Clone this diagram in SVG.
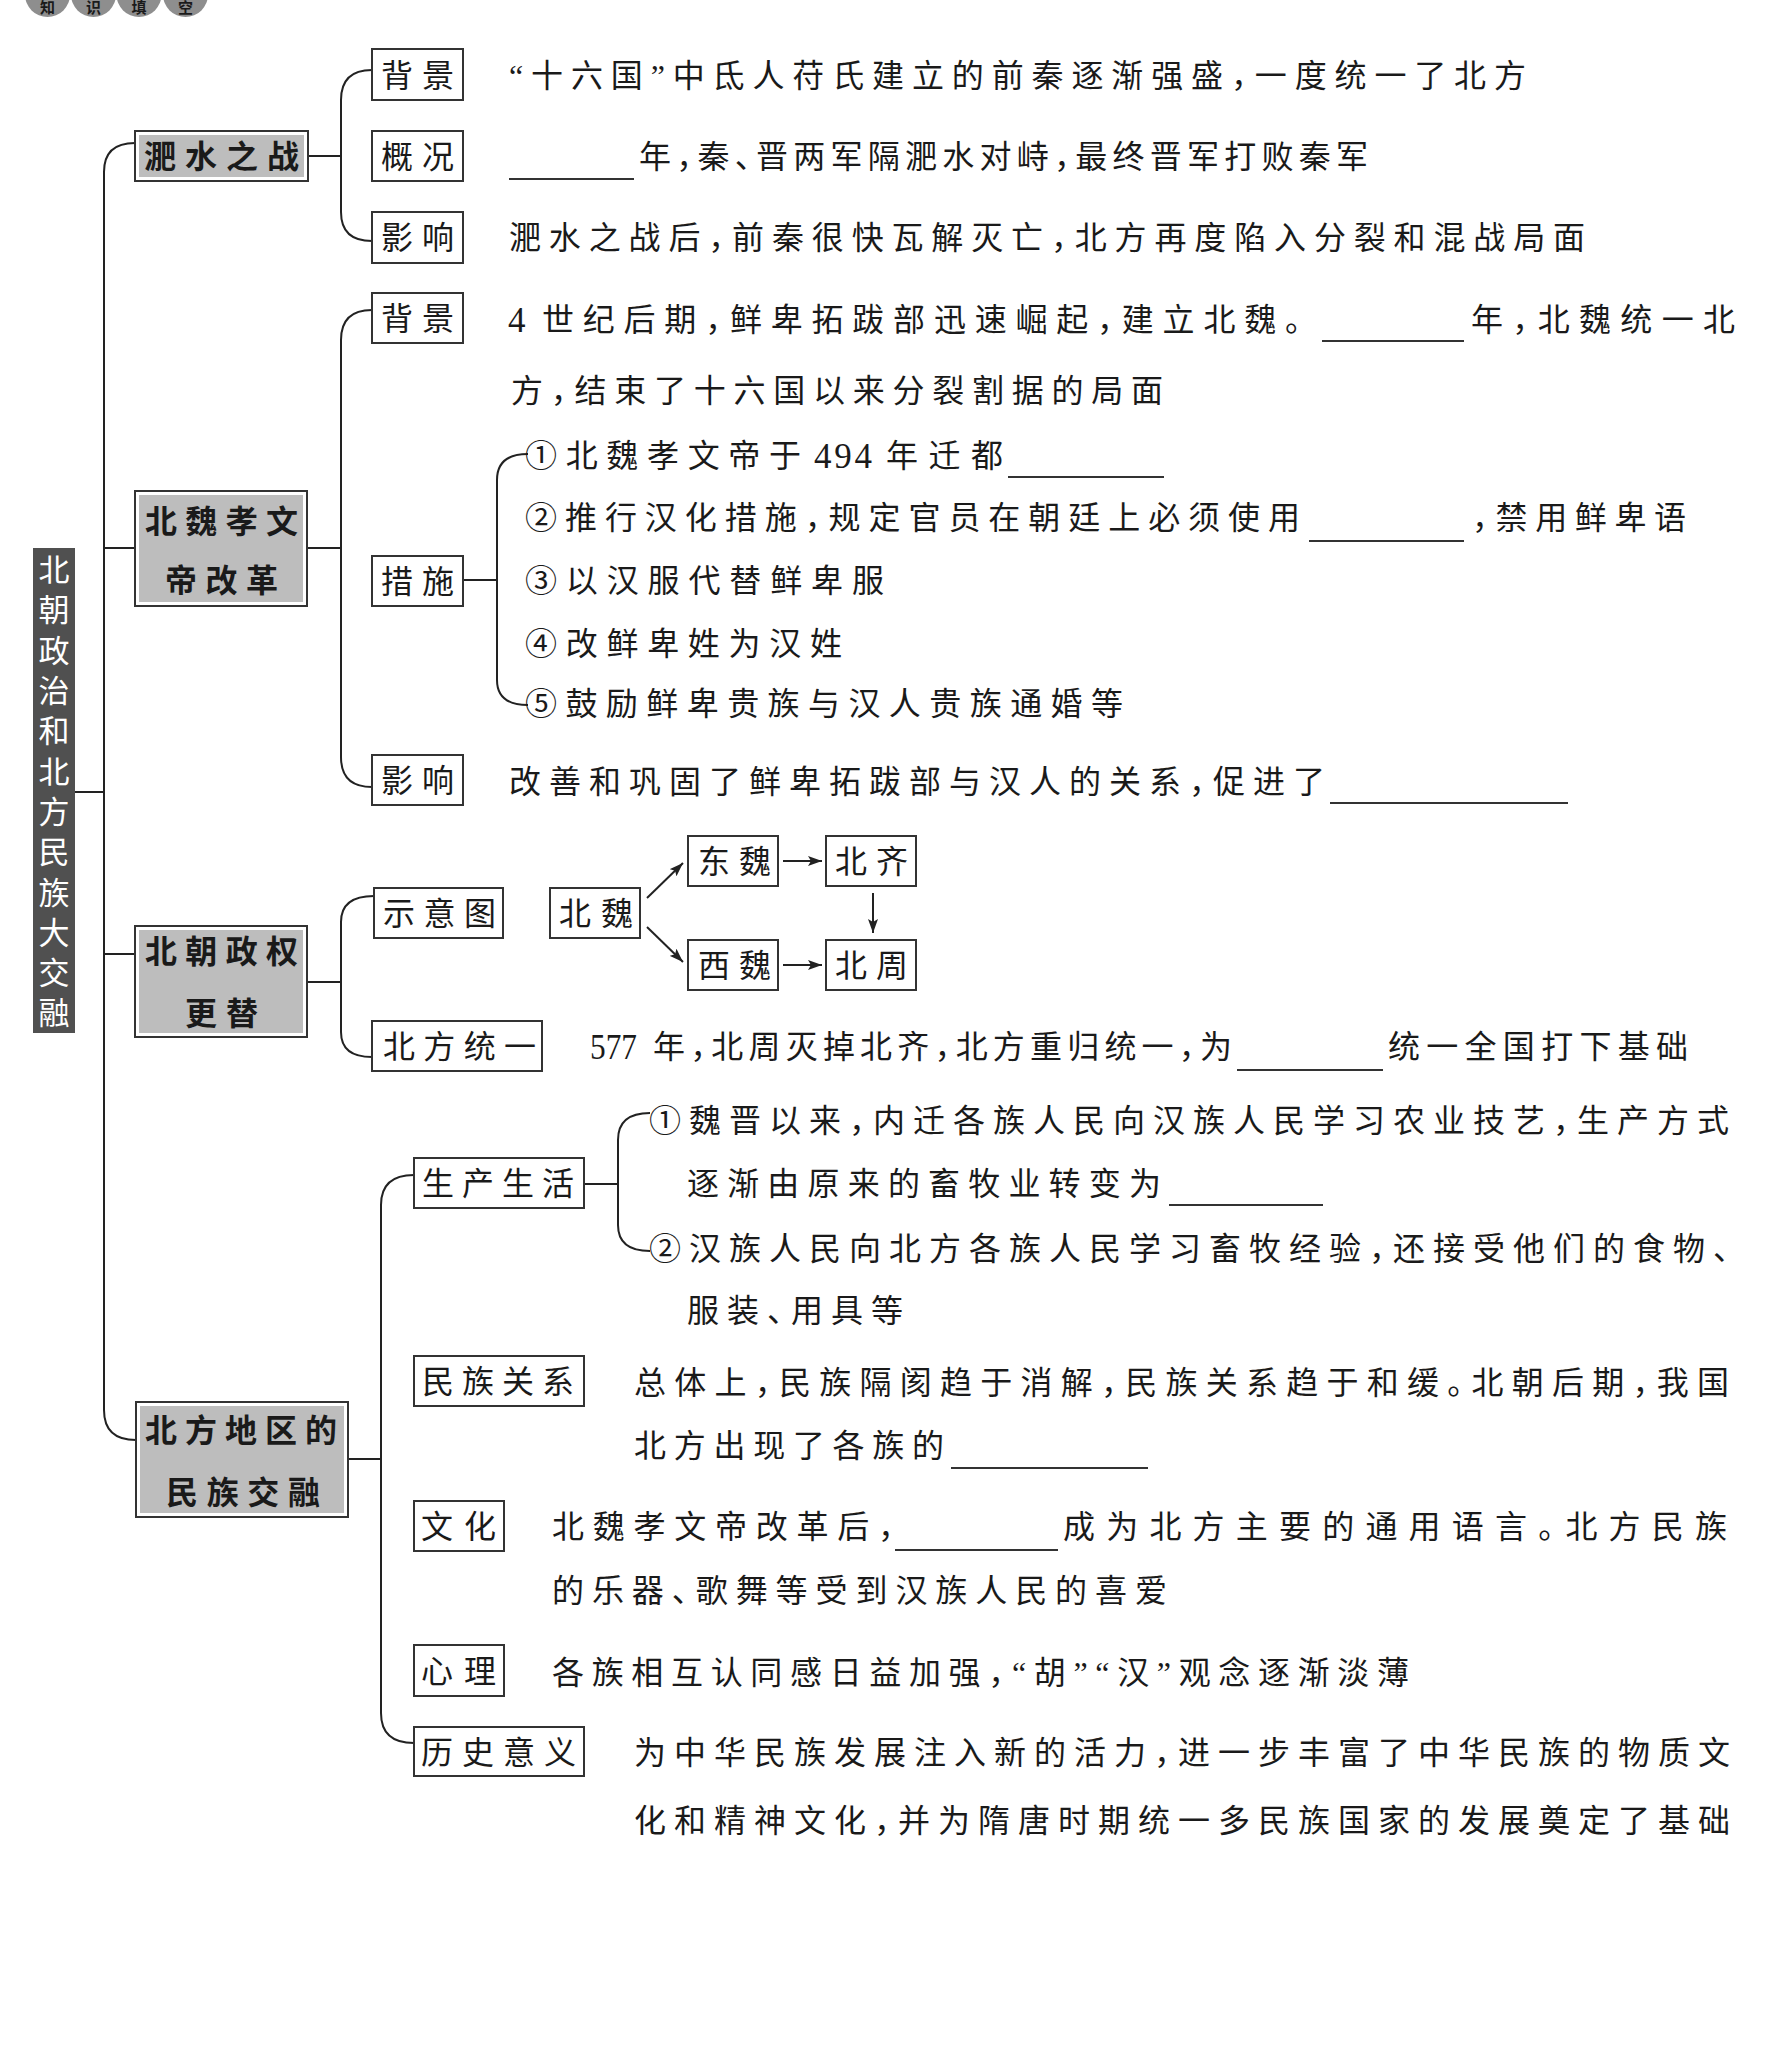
<svg xmlns="http://www.w3.org/2000/svg" width="1791" height="2058" viewBox="0 0 1791 2058">
<defs>
<style>
.t{font-family:"Liberation Serif","Noto Sans CJK SC",serif;font-size:32px;fill:#1a1a1a;font-feature-settings:"halt";}
.n{font-size:35px}
.k{font-weight:bold}
.b{fill:#fff;stroke:#333;stroke-width:2}
.g{fill:#bdbdbd}
.c{fill:none;stroke:#222;stroke-width:2}
.u{stroke:#333;stroke-width:1.8}
.w{fill:#fff;font-size:31px}
.h{font-size:15px;font-weight:bold}
</style>
<marker id="ar" viewBox="0 0 14 10" refX="14" refY="5" markerWidth="14" markerHeight="10" markerUnits="userSpaceOnUse" orient="auto">
<path d="M0,0 L14,5 L0,10 L3,5 Z" fill="#222"/>
</marker>
</defs>
<rect width="1791" height="2058" fill="#fff"/>

<g id="header">
<circle cx="47.5" cy="-5.5" r="22.5" fill="#8e8e8e"/>
<circle cx="93.5" cy="-5.5" r="22.5" fill="#8e8e8e"/>
<circle cx="139" cy="-5.5" r="22.5" fill="#8e8e8e"/>
<circle cx="185.5" cy="-5.5" r="22.5" fill="#8e8e8e"/>
<text class="t h" x="47.5" y="13" text-anchor="middle">知</text>
<text class="t h" x="93.5" y="13" text-anchor="middle">识</text>
<text class="t h" x="139" y="13" text-anchor="middle">填</text>
<text class="t h" x="185.5" y="13" text-anchor="middle">空</text>
</g>

<g id="connectors">
<line class="c" x1="73" y1="792" x2="104" y2="792"/>
<path class="c" d="M135,143 Q104,143 104,172 L104,1410 Q104,1440 136,1440"/>
<line class="c" x1="104" y1="548" x2="135" y2="548"/>
<line class="c" x1="104" y1="954" x2="135" y2="954"/>
<line class="c" x1="308" y1="156" x2="341" y2="156"/>
<path class="c" d="M372,70 Q341,70 341,100 L341,212 Q341,241 372,241"/>
<line class="c" x1="307" y1="548" x2="341" y2="548"/>
<path class="c" d="M372,310 Q341,310 341,340 L341,757 Q341,787 372,787"/>
<line class="c" x1="463" y1="580" x2="497" y2="580"/>
<path class="c" d="M528,454 Q497,454 497,480 L497,680 Q497,705 528,705"/>
<line class="c" x1="307" y1="982" x2="341" y2="982"/>
<path class="c" d="M374,896 Q341,896 341,922 L341,1032 Q341,1057 372,1057"/>
<line class="c" x1="348" y1="1459" x2="381" y2="1459"/>
<path class="c" d="M414,1175 Q381,1175 381,1205 L381,1713 Q381,1743 414,1743"/>
<line class="c" x1="584" y1="1184" x2="618" y2="1184"/>
<path class="c" d="M650,1113 Q618,1113 618,1140 L618,1225 Q618,1251 650,1251"/>
<line class="c" x1="647" y1="898" x2="683" y2="863" marker-end="url(#ar)"/>
<line class="c" x1="647" y1="927" x2="683" y2="962" marker-end="url(#ar)"/>
<line class="c" x1="783" y1="861" x2="822" y2="861" marker-end="url(#ar)"/>
<line class="c" x1="783" y1="965" x2="822" y2="965" marker-end="url(#ar)"/>
<line class="c" x1="873" y1="893" x2="873" y2="933" marker-end="url(#ar)"/>
</g>

<g id="title">
<rect x="33" y="548" width="42" height="485" fill="#505050"/>
<text class="t w" text-anchor="middle">
<tspan x="54" y="581">北</tspan><tspan x="54" y="621">朝</tspan><tspan x="54" y="662">政</tspan><tspan x="54" y="702">治</tspan><tspan x="54" y="742">和</tspan><tspan x="54" y="783">北</tspan><tspan x="54" y="823">方</tspan><tspan x="54" y="863">民</tspan><tspan x="54" y="904">族</tspan><tspan x="54" y="944">大</tspan><tspan x="54" y="984">交</tspan><tspan x="54" y="1024">融</tspan>
</text>
</g>

<g id="feishui">
<rect class="b" x="135" y="131" width="173" height="50"/>
<rect class="g" x="139" y="135" width="165" height="42"/>
<text class="t k" x="144" y="168" textLength="155" lengthAdjust="spacing">淝水之战</text>
</g>
<g id="fs-beijing">
<rect class="b" x="372" y="49" width="91" height="51"/>
<text class="t" x="381" y="87" textLength="73" lengthAdjust="spacing">背景</text>
<text class="t" x="509" y="87" textLength="1017" lengthAdjust="spacing">“十六国”中氐人苻氏建立的前秦逐渐强盛，一度统一了北方</text>
</g>
<g id="fs-gaikuang">
<rect class="b" x="372" y="131" width="91" height="50"/>
<text class="t" x="381" y="168" textLength="73" lengthAdjust="spacing">概况</text>
<line class="u" x1="509" y1="179" x2="634" y2="179"/>
<text class="t" x="639" y="168" textLength="729" lengthAdjust="spacing">年，秦、晋两军隔淝水对峙，最终晋军打败秦军</text>
</g>
<g id="fs-yingxiang">
<rect class="b" x="372" y="212" width="91" height="51"/>
<text class="t" x="381" y="249" textLength="73" lengthAdjust="spacing">影响</text>
<text class="t" x="509" y="249" textLength="1076" lengthAdjust="spacing">淝水之战后，前秦很快瓦解灭亡，北方再度陷入分裂和混战局面</text>
</g>

<g id="xiaowen">
<rect class="b" x="135" y="491" width="172" height="115"/>
<rect class="g" x="139" y="495" width="164" height="107"/>
<text class="t k" x="145" y="533" textLength="153" lengthAdjust="spacing">北魏孝文</text>
<text class="t k" x="165" y="592" textLength="113" lengthAdjust="spacing">帝改革</text>
</g>
<g id="xw-beijing">
<rect class="b" x="372" y="293" width="91" height="50"/>
<text class="t" x="381" y="330" textLength="73" lengthAdjust="spacing">背景</text>
<text class="t n" x="508" y="332">4</text>
<text class="t" x="542" y="331" textLength="759" lengthAdjust="spacing">世纪后期，鲜卑拓跋部迅速崛起，建立北魏。</text>
<line class="u" x1="1322" y1="341" x2="1464" y2="341"/>
<text class="t" x="1471" y="331" textLength="264" lengthAdjust="spacing">年，北魏统一北</text>
<text class="t" x="511" y="402" textLength="652" lengthAdjust="spacing">方，结束了十六国以来分裂割据的局面</text>
</g>
<g id="xw-cuoshi">
<rect class="b" x="372" y="556" width="91" height="50"/>
<text class="t" x="381" y="593" textLength="73" lengthAdjust="spacing">措施</text>
<text class="t" x="525" y="467" textLength="276" lengthAdjust="spacing">①北魏孝文帝于</text>
<text class="t n" x="814" y="468" textLength="58" lengthAdjust="spacing">494</text>
<text class="t" x="886" y="467" textLength="117" lengthAdjust="spacing">年迁都</text>
<line class="u" x1="1008" y1="477" x2="1164" y2="477"/>
<text class="t" x="525" y="529" textLength="775" lengthAdjust="spacing">②推行汉化措施，规定官员在朝廷上必须使用</text>
<line class="u" x1="1309" y1="541" x2="1464" y2="541"/>
<text class="t" x="1472" y="529" textLength="214" lengthAdjust="spacing">，禁用鲜卑语</text>
<text class="t" x="525" y="592" textLength="359" lengthAdjust="spacing">③以汉服代替鲜卑服</text>
<text class="t" x="525" y="655" textLength="317" lengthAdjust="spacing">④改鲜卑姓为汉姓</text>
<text class="t" x="525" y="715" textLength="598" lengthAdjust="spacing">⑤鼓励鲜卑贵族与汉人贵族通婚等</text>
</g>
<g id="xw-yingxiang">
<rect class="b" x="372" y="755" width="91" height="50"/>
<text class="t" x="381" y="792" textLength="73" lengthAdjust="spacing">影响</text>
<text class="t" x="509" y="793" textLength="816" lengthAdjust="spacing">改善和巩固了鲜卑拓跋部与汉人的关系，促进了</text>
<line class="u" x1="1330" y1="803" x2="1568" y2="803"/>
</g>

<g id="beichao">
<rect class="b" x="135" y="926" width="172" height="111"/>
<rect class="g" x="139" y="930" width="164" height="103"/>
<text class="t k" x="145" y="963" textLength="153" lengthAdjust="spacing">北朝政权</text>
<text class="t k" x="185" y="1025" textLength="73" lengthAdjust="spacing">更替</text>
</g>
<g id="bc-shiyitu">
<rect class="b" x="374" y="888" width="129" height="50"/>
<text class="t" x="383" y="925" textLength="113" lengthAdjust="spacing">示意图</text>
</g>
<g id="n-beiwei"><rect class="b" x="550" y="888" width="90" height="50"/><text class="t" x="559" y="925" textLength="74" lengthAdjust="spacing">北魏</text></g>
<g id="n-dongwei"><rect class="b" x="688" y="836" width="90" height="50"/><text class="t" x="698" y="873" textLength="73" lengthAdjust="spacing">东魏</text></g>
<g id="n-beiqi"><rect class="b" x="826" y="836" width="90" height="50"/><text class="t" x="835" y="873" textLength="73" lengthAdjust="spacing">北齐</text></g>
<g id="n-xiwei"><rect class="b" x="688" y="940" width="90" height="50"/><text class="t" x="698" y="977" textLength="73" lengthAdjust="spacing">西魏</text></g>
<g id="n-beizhou"><rect class="b" x="826" y="940" width="90" height="50"/><text class="t" x="835" y="977" textLength="73" lengthAdjust="spacing">北周</text></g>
<g id="bc-tongyi">
<rect class="b" x="372" y="1021" width="170" height="50"/>
<text class="t" x="383" y="1058" textLength="153" lengthAdjust="spacing">北方统一</text>
<text class="t n" x="590" y="1059" textLength="47" lengthAdjust="spacingAndGlyphs">577</text>
<text class="t" x="653" y="1058" textLength="579" lengthAdjust="spacing">年，北周灭掉北齐，北方重归统一，为</text>
<line class="u" x1="1237" y1="1070" x2="1383" y2="1070"/>
<text class="t" x="1388" y="1058" textLength="300" lengthAdjust="spacing">统一全国打下基础</text>
</g>

<g id="minzu">
<rect class="b" x="136" y="1402" width="212" height="115"/>
<rect class="g" x="140" y="1406" width="204" height="107"/>
<text class="t k" x="145" y="1442" textLength="192" lengthAdjust="spacing">北方地区的</text>
<text class="t k" x="166" y="1504" textLength="154" lengthAdjust="spacing">民族交融</text>
</g>
<g id="mz-shengchan">
<rect class="b" x="414" y="1158" width="170" height="50"/>
<text class="t" x="422" y="1195" textLength="152" lengthAdjust="spacing">生产生活</text>
<text class="t" x="649" y="1132" textLength="1080" lengthAdjust="spacing">①魏晋以来，内迁各族人民向汉族人民学习农业技艺，生产方式</text>
<text class="t" x="687" y="1195" textLength="474" lengthAdjust="spacing">逐渐由原来的畜牧业转变为</text>
<line class="u" x1="1169" y1="1205" x2="1323" y2="1205"/>
<text class="t" x="649" y="1260" textLength="1080" lengthAdjust="spacing">②汉族人民向北方各族人民学习畜牧经验，还接受他们的食物、</text>
<text class="t" x="687" y="1322" textLength="216" lengthAdjust="spacing">服装、用具等</text>
</g>
<g id="mz-guanxi">
<rect class="b" x="414" y="1356" width="170" height="50"/>
<text class="t" x="422" y="1393" textLength="152" lengthAdjust="spacing">民族关系</text>
<text class="t" x="634" y="1394" textLength="1095" lengthAdjust="spacing">总体上，民族隔阂趋于消解，民族关系趋于和缓。北朝后期，我国</text>
<text class="t" x="634" y="1457" textLength="310" lengthAdjust="spacing">北方出现了各族的</text>
<line class="u" x1="951" y1="1468" x2="1148" y2="1468"/>
</g>
<g id="mz-wenhua">
<rect class="b" x="414" y="1501" width="90" height="50"/>
<text class="t" x="421" y="1538" textLength="75" lengthAdjust="spacing">文化</text>
<text class="t" x="552" y="1538" textLength="342" lengthAdjust="spacing">北魏孝文帝改革后，</text>
<line class="u" x1="895" y1="1550" x2="1058" y2="1550"/>
<text class="t" x="1063" y="1538" textLength="664" lengthAdjust="spacing">成为北方主要的通用语言。北方民族</text>
<text class="t" x="552" y="1602" textLength="615" lengthAdjust="spacing">的乐器、歌舞等受到汉族人民的喜爱</text>
</g>
<g id="mz-xinli">
<rect class="b" x="414" y="1645" width="90" height="51"/>
<text class="t" x="421" y="1683" textLength="75" lengthAdjust="spacing">心理</text>
<text class="t" x="552" y="1684" textLength="857" lengthAdjust="spacing">各族相互认同感日益加强，“胡”“汉”观念逐渐淡薄</text>
</g>
<g id="mz-yiyi">
<rect class="b" x="414" y="1727" width="170" height="49"/>
<text class="t" x="421" y="1764" textLength="155" lengthAdjust="spacing">历史意义</text>
<text class="t" x="634" y="1764" textLength="1096" lengthAdjust="spacing">为中华民族发展注入新的活力，进一步丰富了中华民族的物质文</text>
<text class="t" x="634" y="1832" textLength="1096" lengthAdjust="spacing">化和精神文化，并为隋唐时期统一多民族国家的发展奠定了基础</text>
</g>
</svg>
